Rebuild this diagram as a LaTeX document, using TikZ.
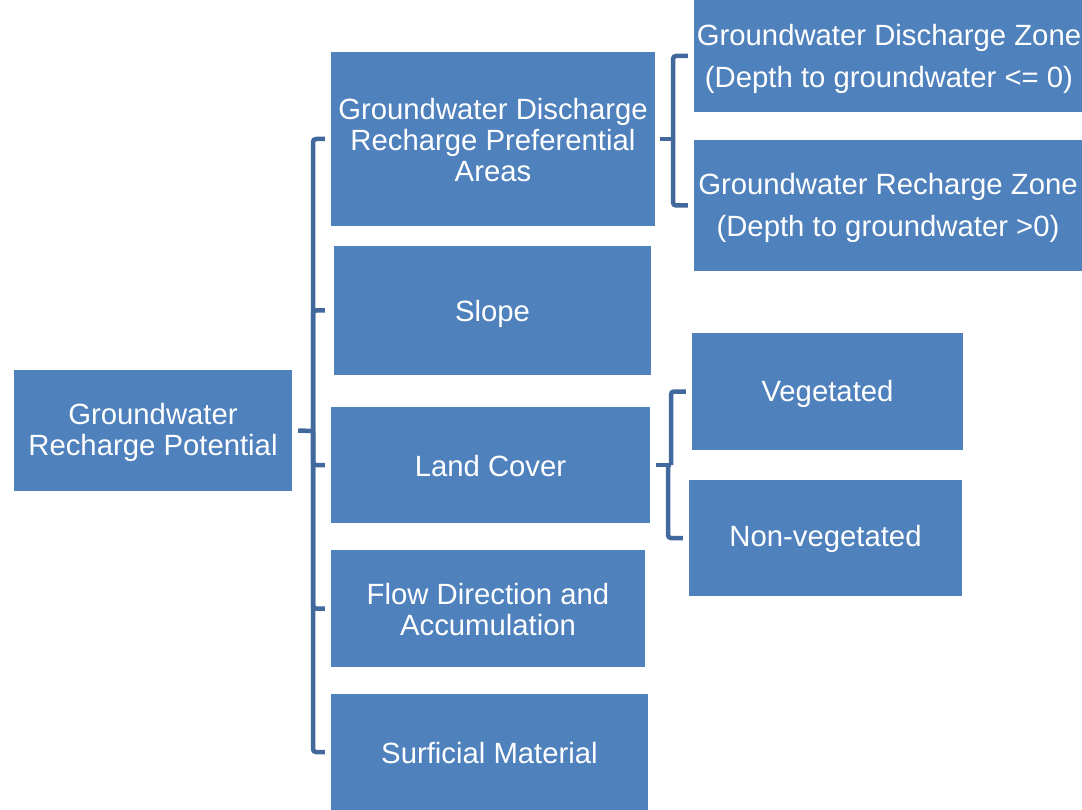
\documentclass[tikz,border=0pt]{standalone}
\usepackage{fontspec}
\setmainfont{Liberation Sans}
\definecolor{boxblue}{HTML}{4F81BD}
\definecolor{lineblue}{HTML}{41699D}
\begin{document}
\begin{tikzpicture}[x=1pt,y=-1pt,
  box/.style={fill=boxblue, draw=none, text=white, align=center, inner sep=0pt,
    font=\fontsize{29.3}{31}\selectfont},
  widebox/.style={box, font=\fontsize{29.3}{42}\selectfont},
  conn/.style={draw=lineblue, line width=4.5pt, rounded corners=3pt, line cap=butt}]
\useasboundingbox (0,0) rectangle (1082,810);
% main node
\node[box, minimum width=278pt, minimum height=121pt] (main) at (153,430.5) {};
\node[box, fill=none, yshift=-2pt] (maint) at (main.center) {Groundwater\\Recharge Potential};
% second level
\node[box, minimum width=324pt, minimum height=174pt] (gdr) at (493,139) {};
\node[box, fill=none, yshift=-1pt] (gdrt) at (gdr.center) {Groundwater Discharge\\Recharge Preferential\\Areas};
\node[box, minimum width=317pt, minimum height=129pt] (slope) at (492.5,310.5) {};
\node[box, fill=none, yshift=-3pt] (slopet) at (slope.center) {Slope};
\node[box, minimum width=319pt, minimum height=116pt] (land) at (490.5,465) {};
\node[box, fill=none, yshift=-1pt] (landt) at (land.center) {Land Cover};
\node[box, minimum width=314pt, minimum height=117pt] (flow) at (488,608.5) {};
\node[box, fill=none, yshift=-1pt] (flowt) at (flow.center) {Flow Direction and\\Accumulation};
\node[box, minimum width=317pt, minimum height=116pt] (surf) at (489.5,752) {};
\node[box, fill=none, yshift=-1pt] (surft) at (surf.center) {Surficial Material};
% third level
\node[box, minimum width=388pt, minimum height=112pt] (gdz) at (888,56) {};
\node[widebox, fill=none, yshift=-3pt, xshift=1pt] (gdzt) at (gdz.center) {Groundwater Discharge Zone\\(Depth to groundwater <= 0)};
\node[box, minimum width=388pt, minimum height=131pt] (grz) at (888,205.5) {};
\node[widebox, fill=none, yshift=-2pt] (grzt) at (grz.center) {Groundwater Recharge Zone\\(Depth to groundwater >0)};
\node[box, minimum width=271pt, minimum height=117pt] (veg) at (827.5,391.5) {};
\node[box, fill=none, yshift=-2pt] (vegt) at (veg.center) {Vegetated};
\node[box, minimum width=273pt, minimum height=116pt] (nonveg) at (825.5,538) {};
\node[box, fill=none, yshift=-1pt] (nonvegt) at (nonveg.center) {Non-vegetated};
% main bracket
\coordinate (sp) at (313,431);
\draw[conn] ([xshift=6pt]main.east) -- (sp);
\draw[conn] (sp) |- ([xshift=-6pt]gdr.west);
\draw[conn] (sp) |- ([xshift=-9pt]slope.west);
\draw[conn] (sp) |- ([xshift=-6pt]land.west);
\draw[conn] (sp) |- ([xshift=-6pt]flow.west);
\draw[conn] (sp) |- ([xshift=-6pt]surf.west);
% right bracket 1
\coordinate (sp1) at (673,139);
\draw[conn] ([xshift=5pt]gdr.east) -- (sp1);
\draw[conn] (sp1) |- ([xshift=-6pt]gdz.west);
\draw[conn] (sp1) |- ([xshift=-6pt]grz.west);
% right bracket 2
\coordinate (sp2) at (671,465);
\coordinate (sp3) at (668,465);
\draw[conn] ([xshift=6pt]land.east) -- (sp2);
\draw[conn] (sp2) |- ([xshift=-6pt]veg.west);
\draw[conn] (sp3) |- ([xshift=-6pt]nonveg.west);
\end{tikzpicture}
\end{document}
